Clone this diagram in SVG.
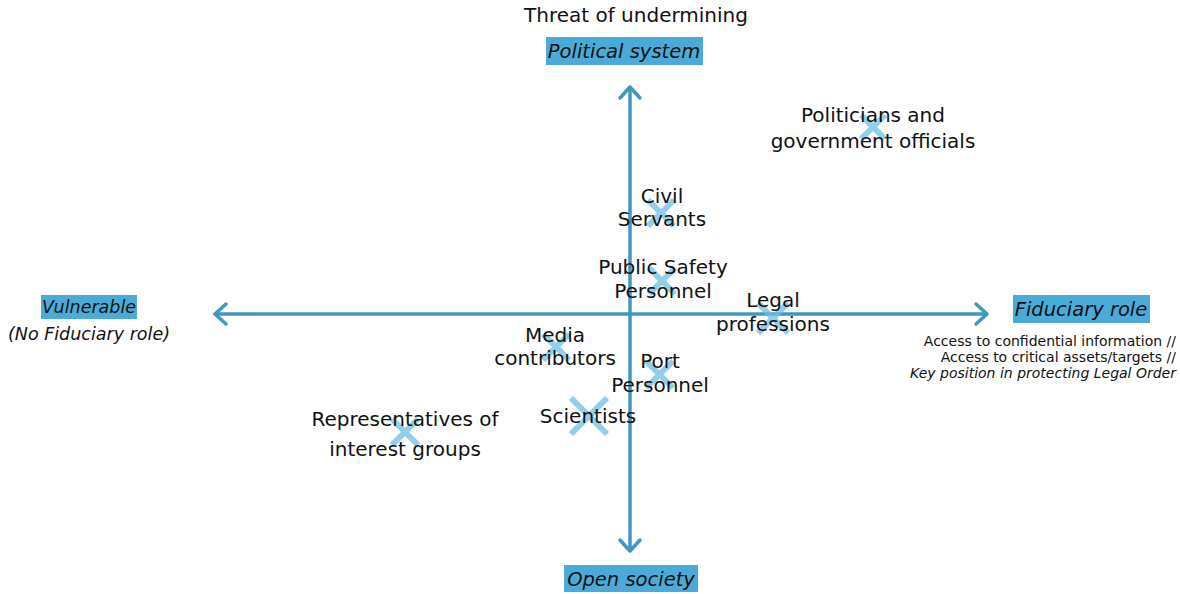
<svg xmlns="http://www.w3.org/2000/svg" width="1180" height="594" viewBox="0 0 1180 594">
<style>
.axis{stroke:#4197bf;stroke-width:3.5;fill:none;stroke-linecap:round;stroke-linejoin:round}
.cross{stroke:#6fbfe3;stroke-opacity:0.75;stroke-width:6;stroke-linecap:butt}
.lbl{font-family:"DejaVu Sans","Liberation Sans",sans-serif;font-size:20px;fill:#111;text-anchor:middle}
.box{fill:#4aabd8}
.ital{font-family:"DejaVu Sans","Liberation Sans",sans-serif;font-style:italic;fill:#111;text-anchor:middle}
.small{font-family:"DejaVu Sans","Liberation Sans",sans-serif;font-size:14px;fill:#111;text-anchor:end}
</style>
<rect width="1180" height="594" fill="#fff"/>
<g id="connectors">
<path class="axis" d="M630,88 V550"/>
<path class="axis" d="M620,98 L630,87 L640,98"/>
<path class="axis" d="M620,540 L630,551 L640,540"/>
<path class="axis" d="M215,314 H986"/>
<path class="axis" d="M226,304 L215,314 L226,324"/>
<path class="axis" d="M976,304 L987,314 L976,324"/>
</g>
<g id="top-label">
<text x="636" y="22" class="lbl">Threat of undermining</text>
<rect class="box" x="546" y="37" width="157" height="28"/>
<text x="624" y="58" class="ital" font-size="19.5">Political system</text>
</g>
<g id="bottom-label">
<rect class="box" x="564" y="565" width="134" height="27"/>
<text x="631" y="586" class="ital" font-size="19.5">Open society</text>
</g>
<g id="left-label">
<rect class="box" x="41" y="295" width="96" height="24"/>
<text x="89" y="313" class="ital" font-size="17.5">Vulnerable</text>
<text x="89" y="340" class="ital" font-size="17.5">(No Fiduciary role)</text>
</g>
<g id="right-label">
<rect class="box" x="1013" y="295" width="137" height="28"/>
<text x="1081" y="316" class="ital" font-size="19.5">Fiduciary role</text>
<text x="1176" y="346" class="small">Access to confidential information //</text>
<text x="1176" y="362" class="small">Access to critical assets/targets //</text>
<text x="1176" y="378" class="small" font-style="italic" font-size="13.7">Key position in protecting Legal Order</text>
</g>
<g id="politicians">
<path class="cross" d="M861,115 L885,139 M885,115 L861,139"/>
<text x="873" y="122" class="lbl">Politicians and</text>
<text x="873" y="148" class="lbl">government officials</text>
</g>
<g id="civil-servants">
<path class="cross" d="M648,200 L674,226 M674,200 L648,226"/>
<text x="662" y="203" class="lbl">Civil</text>
<text x="662" y="226" class="lbl">Servants</text>
</g>
<g id="public-safety">
<path class="cross" d="M649,268 L675,294 M675,268 L649,294"/>
<text x="663" y="274" class="lbl">Public Safety</text>
<text x="663" y="298" class="lbl">Personnel</text>
</g>
<g id="legal">
<path class="cross" d="M758,303 L788,333 M788,303 L758,333"/>
<text x="773" y="307" class="lbl">Legal</text>
<text x="773" y="331" class="lbl">professions</text>
</g>
<g id="media">
<path class="cross" d="M543,334 L569,360 M569,334 L543,360"/>
<text x="555" y="342" class="lbl">Media</text>
<text x="555" y="365" class="lbl">contributors</text>
</g>
<g id="port">
<path class="cross" d="M646,361 L673,388 M673,361 L646,388"/>
<text x="660" y="368" class="lbl">Port</text>
<text x="660" y="392" class="lbl">Personnel</text>
</g>
<g id="scientists">
<path class="cross" d="M571,398 L607,434 M607,398 L571,434"/>
<text x="588" y="423" class="lbl">Scientists</text>
</g>
<g id="representatives">
<path class="cross" d="M392,419 L418,445 M418,419 L392,445"/>
<text x="405" y="426" class="lbl">Representatives of</text>
<text x="405" y="456" class="lbl">interest groups</text>
</g>
</svg>
